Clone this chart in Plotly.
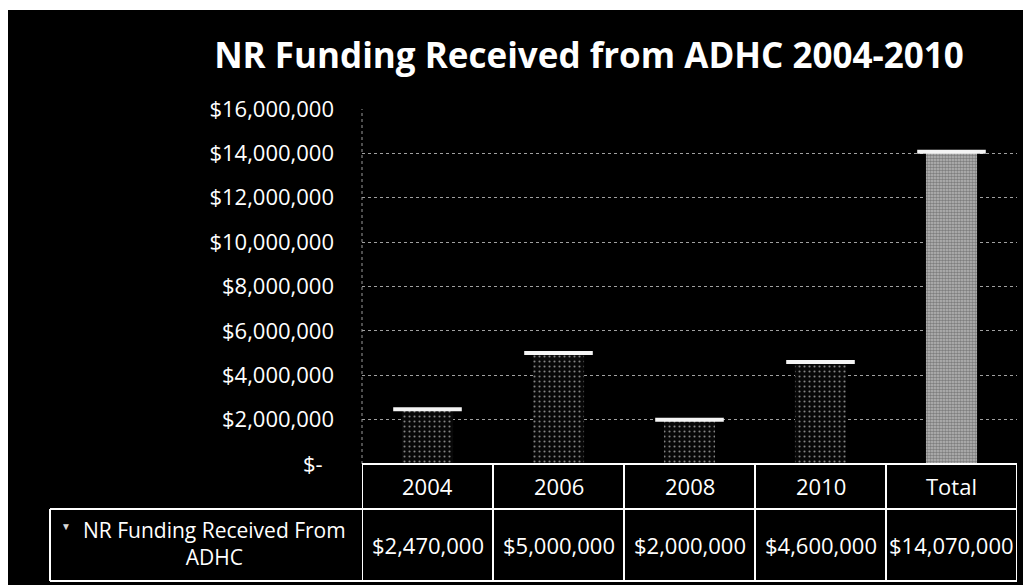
import plotly.graph_objects as go

categories = ["2004", "2006", "2008", "2010", "Total"]
funding = [2470000, 5000000, 2000000, 4600000, 14070000]
series_name = "NR Funding Received From<br>ADHC"
title_text = "NR Funding Received from ADHC 2004-2010"
tick_values = [0, 2000000, 4000000, 6000000, 8000000, 10000000, 12000000, 14000000, 16000000]

def money(v):
    return "$-\u00a0\u00a0" if v == 0 else f"${v:,.0f}"

tick_text = [money(v) for v in tick_values]
value_text = [f"${v:,.0f}" for v in funding]

FONT = "Open Sans"
OFF = 8  # page body margin
VW, VH = 1031, 585
W, H = VW - OFF, VH - OFF
# plot area in viewport pixels: x 362..1017, y 109..464
L, R, T, B = 362 - OFF, VW - 1017, 109 - OFF, VH - 464
PW, PH = W - L - R, H - T - B

def px_x(p):  # viewport pixel -> paper x
    return (p - OFF - L) / PW

def px_y(p):  # viewport pixel -> paper y
    return (H - B - (p - OFF)) / PH

n = len(categories)
idx = list(range(n))
is_total = [c == "Total" for c in categories]

fig = go.Figure()
fig.add_trace(go.Bar(
    x=categories, y=funding, width=0.39,
    marker=dict(
        color=["#b8b8b8" if t else "#080808" for t in is_total],
        line=dict(width=0),
        pattern=dict(
            shape=".",
            fgcolor=["#f0f0f0" if t else "#9a9a9a" for t in is_total],
            bgcolor=["#989898" if t else "#030303" for t in is_total],
            size=[3 if t else 5 for t in is_total],
            solidity=[0.55 if t else 0.14 for t in is_total],
        ),
    ),
    hoverinfo="skip", showlegend=False,
))
# bright top edge of each bar
fig.add_trace(go.Scatter(
    x=categories, y=funding, mode="markers",
    marker=dict(symbol="line-ew", size=49, line=dict(color="#f4f4f4", width=4)),
    hoverinfo="skip", showlegend=False,
))

shapes = []
# black scanned page area
shapes.append(dict(type="rect", xref="paper", yref="paper", layer="below",
                   x0=px_x(7), x1=px_x(VW + 5), y0=px_y(VH + 5), y1=px_y(10),
                   fillcolor="black", line=dict(width=0)))
# left plot border (dotted)
shapes.append(dict(type="line", xref="x domain", yref="y domain", x0=0, x1=0, y0=0, y1=1,
                   line=dict(color="#9a9a9a", width=1, dash="dot")))

# table geometry
lw = dict(color="white", width=2)
label_left = px_x(50)
row0_top, row0_bot, row1_bot = px_y(464), px_y(509), px_y(581)
shapes.append(dict(type="line", xref="paper", yref="paper", x0=0, x1=1, y0=row0_top, y1=row0_top, line=lw))
shapes.append(dict(type="line", xref="paper", yref="paper", x0=label_left, x1=1, y0=row0_bot, y1=row0_bot, line=lw))
shapes.append(dict(type="line", xref="paper", yref="paper", x0=label_left, x1=1, y0=row1_bot, y1=row1_bot, line=lw))
shapes.append(dict(type="line", xref="paper", yref="paper", x0=label_left, x1=label_left, y0=row0_bot, y1=row1_bot, line=lw))
for i in range(n + 1):
    shapes.append(dict(type="line", xref="x", yref="paper", x0=i - 0.5, x1=i - 0.5,
                       y0=row0_top, y1=row1_bot, line=lw))

annotations = []
tfont = dict(family=FONT, size=22, color="white")
for i, c, vt in zip(idx, categories, value_text):
    annotations.append(dict(x=i, xref="x", y=(row0_top + row0_bot) / 2, yref="paper",
                            text=c, showarrow=False, font=tfont, xanchor="center", yanchor="middle"))
    annotations.append(dict(x=i, xref="x", y=(row0_bot + row1_bot) / 2, yref="paper",
                            text=vt, showarrow=False, font=tfont, xanchor="center", yanchor="middle"))
annotations.append(dict(x=px_x(214), xref="paper", y=(row0_bot + row1_bot) / 2 + 0.005, yref="paper",
                        text=series_name, showarrow=False, font=dict(family=FONT, size=21, color="white"),
                        align="center", xanchor="center", yanchor="middle"))
annotations.append(dict(x=px_x(66), xref="paper", y=px_y(526), yref="paper",
                        text="▼", showarrow=False, font=dict(family=FONT, size=10, color="#d8d8d8"),
                        xanchor="center", yanchor="middle"))

fig.update_layout(
    width=W, height=H,
    margin=dict(l=L, r=R, t=T, b=B, autoexpand=False),
    paper_bgcolor="white", plot_bgcolor="black",
    title=dict(text=title_text, x=(589 - OFF) / W, xref="container", xanchor="center",
               y=1 - (56 - OFF) / H, yref="container", yanchor="middle",
               font=dict(family=FONT, size=35, color="white", weight="bold")),
    bargap=0.61,
    xaxis=dict(type="category", range=[-0.5, n - 0.5], showticklabels=False, showgrid=False,
               zeroline=False, showline=False, fixedrange=True),
    yaxis=dict(range=[0, 16000000], tickvals=tick_values, ticktext=tick_text,
               tickfont=dict(family=FONT, size=22, color="white"),
               showgrid=True, gridcolor="#a0a0a0", gridwidth=1, griddash="dot",
               zeroline=False, showline=False, ticks="", ticklabelstandoff=27),
    shapes=shapes, annotations=annotations,
    font=dict(family=FONT, color="white"),
)

fig.write_html("out.html")
